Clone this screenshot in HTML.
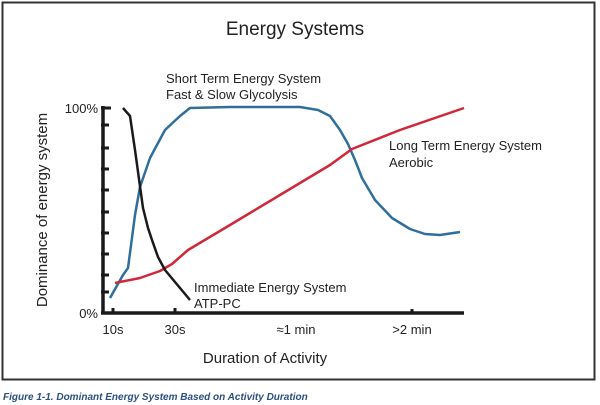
<!DOCTYPE html>
<html><head><meta charset="utf-8"><style>
html,body{margin:0;padding:0;background:#fff;width:600px;height:405px;overflow:hidden}
svg{display:block}
text{font-family:"Liberation Sans",sans-serif;fill:#222}
</style></head><body>
<svg width="600" height="405" viewBox="0 0 600 405">
<rect x="2.5" y="2.5" width="592" height="377" fill="#fff" stroke="#333" stroke-width="2"/>
<text x="295" y="35" font-size="19" text-anchor="middle">Energy Systems</text>
<text x="166" y="83" font-size="13">Short Term Energy System</text>
<text x="166" y="99" font-size="13">Fast &amp; Slow Glycolysis</text>
<text x="389" y="150" font-size="13">Long Term Energy System</text>
<text x="389" y="167" font-size="13">Aerobic</text>
<text x="194" y="292" font-size="13">Immediate Energy System</text>
<text x="194" y="308" font-size="13">ATP-PC</text>
<text x="98" y="113" font-size="13" text-anchor="end">100%</text>
<text x="98" y="318" font-size="13" text-anchor="end">0%</text>
<text transform="translate(47,210) rotate(-90)" font-size="15" text-anchor="middle">Dominance of energy system</text>
<text x="113" y="334" font-size="13" text-anchor="middle">10s</text>
<text x="175" y="334" font-size="13" text-anchor="middle">30s</text>
<text x="296" y="334" font-size="13" text-anchor="middle">≈1 min</text>
<text x="412" y="334" font-size="13" text-anchor="middle">&gt;2 min</text>
<text x="265" y="363" font-size="15" text-anchor="middle">Duration of Activity</text>
<g stroke="#1a1a1a" stroke-width="3.5" fill="none">
<line x1="103" y1="106" x2="103" y2="314"/>
<line x1="101" y1="313" x2="464" y2="313"/>
</g>
<g stroke="#1a1a1a" stroke-width="3">
<line x1="101" y1="108" x2="111" y2="108"/>
<line x1="101" y1="125" x2="109" y2="125"/>
<line x1="101" y1="148" x2="109" y2="148"/>
<line x1="101" y1="169" x2="109" y2="169"/>
<line x1="101" y1="190" x2="109" y2="190"/>
<line x1="101" y1="212" x2="109" y2="212"/>
<line x1="101" y1="233" x2="109" y2="233"/>
<line x1="101" y1="254" x2="109" y2="254"/>
<line x1="101" y1="275" x2="109" y2="275"/>
<line x1="101" y1="292" x2="109" y2="292"/>
<line x1="113" y1="308" x2="113" y2="313"/>
<line x1="175" y1="308" x2="175" y2="313"/>
<line x1="412" y1="309" x2="412" y2="313"/>
</g>
<polyline fill="none" stroke="#2f6f9a" stroke-width="2.5" stroke-linejoin="round" points="110,298 123,275 128,268 135,215 140,187 150,158 165,130 180,116 190,108 230,107 300,107 318,110 330,116 340,130 348,144 355,160 362,178 375,200 392,218 410,229 425,234 440,235 460,232"/>
<polyline fill="none" stroke="#d0283a" stroke-width="2.5" stroke-linejoin="round" points="115,283 140,278 160,271 172,264 188,250 230,225 280,195 330,165 352,149 400,130 464,108"/>
<polyline fill="none" stroke="#1a1a1a" stroke-width="2.5" stroke-linejoin="round" points="123,108 130,116 135,150 143,208 148,228 152,240 158,257 165,270 190,300"/>
<text x="3" y="400" font-size="10" font-style="italic" font-weight="bold" style="fill:#2b4f80">Figure 1-1. Dominant Energy System Based on Activity Duration</text>
</svg>
</body></html>
